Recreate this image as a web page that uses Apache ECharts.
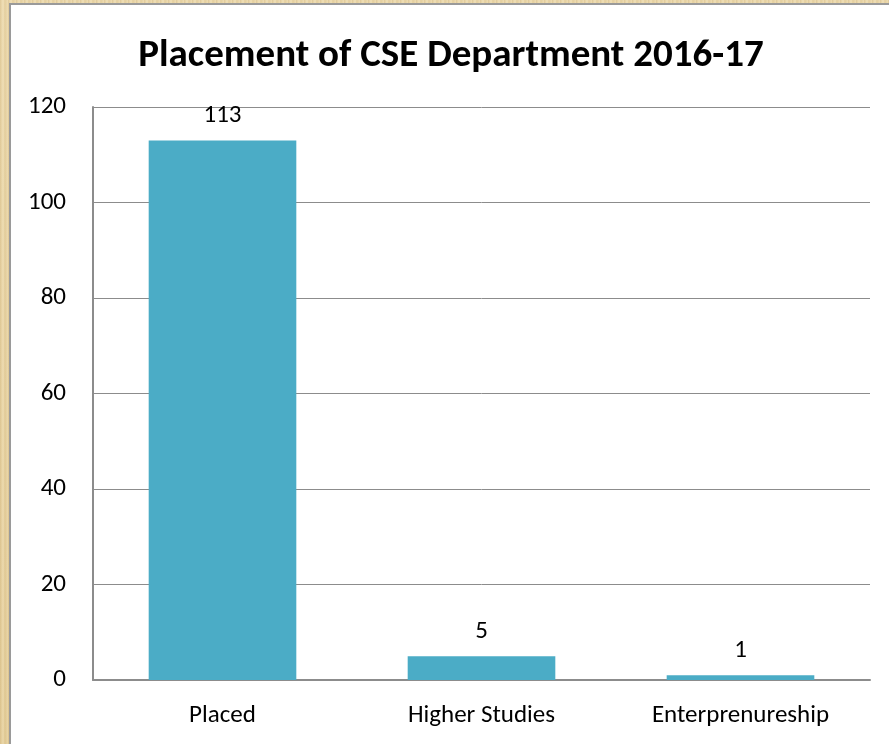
<!DOCTYPE html>
<html>
<head>
<meta charset="utf-8">
<script src="https://cdn.jsdelivr.net/npm/echarts@6/dist/echarts.min.js"></script>
<style>
  html, body { margin: 0; padding: 0; width: 889px; height: 744px; overflow: hidden; }
  body {
    background: #e8d4a6;
    background-image:
      repeating-linear-gradient(90deg, rgba(190,160,100,0.25) 0px, rgba(255,245,215,0.3) 3px, rgba(200,170,110,0.2) 5px, rgba(250,235,200,0.3) 8px),
      linear-gradient(180deg, #ead7ab, #e3cc98);
  }
  #chart {
    position: absolute; left: 9px; top: 3px; width: 880px; height: 741px;
    background: #fff; border-left: 2px solid #9a9a9a; border-top: 2px solid #9a9a9a;
  }
</style>
</head>
<body>
<div id="chart"></div>
<script>
  // placement numbers
  const categories = ['Placed', 'Higher Studies', 'Enterprenureship']
  const counts = [113, 5, 1]
  const yTicks = { min: 0, max: 120, interval: 20 }

  const chart = echarts.init(document.getElementById('chart'))
  const font = 'Calibri, Carlito, "Open Sans", "Noto Sans", sans-serif'

  chart.setOption({
    animation: false,
    backgroundColor: '#fff',
    title: {
      text: 'Placement of CSE Department 2016-17',
      left: 'center',
      top: 27,
      textStyle: { fontFamily: font, fontSize: 39, fontWeight: 'bold', color: '#000' }
    },
    grid: { left: 82, right: 21, top: 102, bottom: 66 },
    xAxis: {
      type: 'category',
      data: categories,
      axisLine: { lineStyle: { color: '#8c8c8c', width: 2 } },
      axisTick: { show: false },
      axisLabel: { fontFamily: font, fontSize: 25, color: '#000', margin: 23 }
    },
    yAxis: {
      type: 'value',
      min: yTicks.min,
      max: yTicks.max,
      interval: yTicks.interval,
      axisLine: { show: true, lineStyle: { color: '#8c8c8c', width: 2 } },
      axisTick: { show: false },
      axisLabel: { fontFamily: font, fontSize: 25, color: '#000', margin: 27 },
      splitLine: { lineStyle: { color: '#8c8c8c', width: 1 } }
    },
    series: [{
      type: 'bar',
      data: counts,
      barWidth: '57%',
      itemStyle: { color: '#4bacc6' },
      label: {
        show: true,
        position: 'top',
        distance: 12,
        fontFamily: font,
        fontSize: 25,
        color: '#000'
      }
    }]
  })
</script>
</body>
</html>
